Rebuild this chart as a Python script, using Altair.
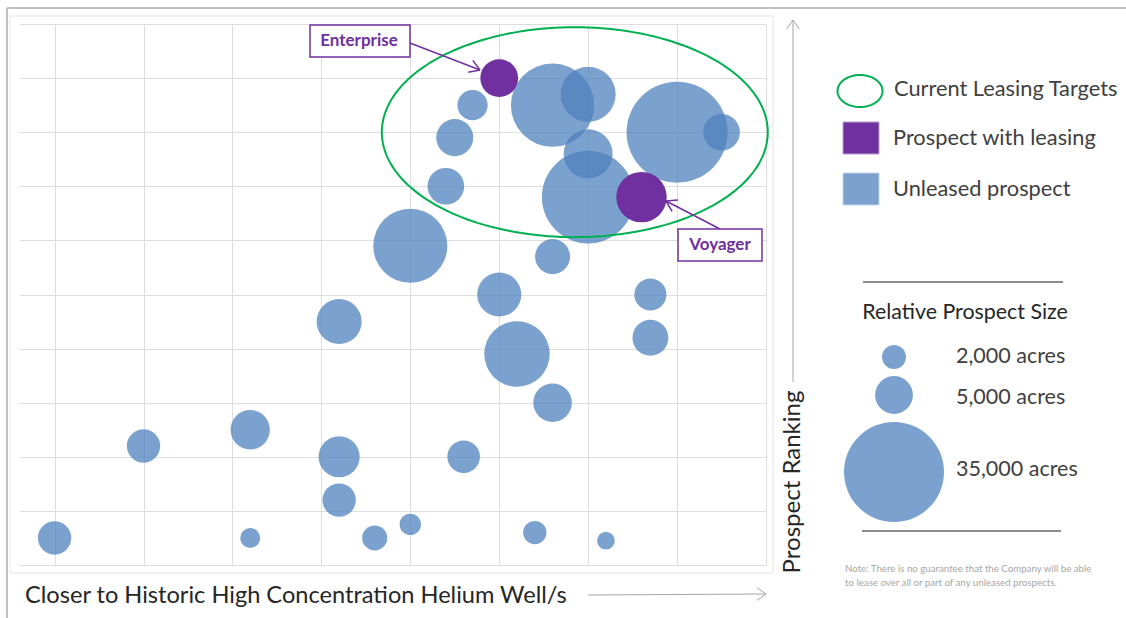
import altair as alt
import numpy as np
import pandas as pd

# ---------------- data ----------------
unleased_x = [1.0, 2.0, 3.2, 3.2, 4.2, 4.2, 4.2, 4.6, 5.0, 5.6, 6.4, 7.2, 6.2, 6.6,
              7.7, 7.7, 6.0, 6.6, 5.0, 5.4, 5.5, 5.7, 6.6, 7.0, 7.0, 7.0, 8.0, 8.5]
unleased_y = [0.5, 2.2, 0.5, 2.5, 4.5, 2.0, 1.2, 0.5, 0.75, 2.0, 0.6, 0.45, 3.9, 3.0,
              4.2, 5.0, 5.0, 5.7, 5.9, 7.0, 7.9, 8.5, 8.5, 8.7, 7.6, 6.8, 8.0, 8.0]
unleased_acres = [3900, 3900, 1400, 5400, 7100, 5900, 3900, 2200, 1600, 3700, 1900, 1100,
                  15000, 5200, 4500, 3600, 6800, 4300, 19200, 4700, 4800, 3200, 24300,
                  10600, 8400, 30000, 35700, 4700]
leased_name = ["Enterprise", "Voyager"]
leased_x = [6.0, 7.6]
leased_y = [9.0, 6.8]
leased_acres = [5000, 8900]
legend_acres = [2000, 5000, 35000]
legend_labels = ["2,000 acres", "5,000 acres", "35,000 acres"]
legend_items = ["Current Leasing Targets", "Prospect with leasing", "Unleased prospect"]
x_grid = list(range(1, 10))
y_grid = list(range(0, 11))
target_center = (6.85, 8.0)
target_radii = (2.17, 1.94)

# ---------------- layout ----------------
W, H = 747, 541
PL, PT = 19, 24
XMIN, XMAX = 0.6, 9.0
YMIN, YMAX = 0.0, 10.0
FONT = "Lato"
BLUE = "#4f81bd"
PURPLE = "#7030a0"
GREEN = "#00b050"


def X(px):
    return XMIN + (px - PL) / W * (XMAX - XMIN)


def Y(py):
    return YMAX - (py - PT) / H * (YMAX - YMIN)


xs = alt.Scale(domain=[XMIN, XMAX], nice=False, zero=False)
ys = alt.Scale(domain=[YMIN, YMAX], nice=False, zero=False)
# Vega circle: radius = sqrt(size)/2  -> 35,000 acres gives radius 50 px
ss = alt.Scale(type="linear", domain=[0, 35000], range=[0, 10000])
xaxis = alt.Axis(values=x_grid, grid=True, gridColor="#dedede", gridWidth=1,
                 labels=False, ticks=False, domain=False, title=None)
yaxis = alt.Axis(values=y_grid, grid=True, gridColor="#dedede", gridWidth=1,
                 labels=False, ticks=False, domain=False, title=None)


def ex(f):
    return alt.X(f, type="quantitative", scale=xs, axis=xaxis)


def ey(f):
    return alt.Y(f, type="quantitative", scale=ys, axis=yaxis)


def seg_layer(segs, color, width):
    df = pd.DataFrame([{"x": X(a), "y": Y(b), "x2": X(c), "y2": Y(d)} for a, b, c, d in segs])
    return alt.Chart(df).mark_rule(color=color, strokeWidth=width).encode(
        x=ex("x"), y=ey("y"), x2="x2", y2="y2")


def head(tip, frm, length=12, ang=32):
    tx, ty = tip
    fx, fy = frm
    base = np.arctan2(fy - ty, fx - tx)
    out = []
    for s in (-1, 1):
        a = base + s * np.radians(ang)
        out.append((tx, ty, tx + length * np.cos(a), ty + length * np.sin(a)))
    return out


def text_layer(px, py, text, size, color, weight="normal", align="left", angle=0):
    df = pd.DataFrame({"x": [X(px)], "y": [Y(py)], "t": [text]})
    return alt.Chart(df).mark_text(font=FONT, fontSize=size, color=color, fontWeight=weight,
                                   align=align, baseline="middle", angle=angle).encode(
        x=ex("x"), y=ey("y"), text="t:N")


def rect_layer(x0, y0, x1, y1, fill, stroke, sw, opacity=1.0):
    df = pd.DataFrame({"x": [X(x0)], "y": [Y(y0)], "x2": [X(x1)], "y2": [Y(y1)]})
    return alt.Chart(df).mark_rect(fill=fill, stroke=stroke, strokeWidth=sw, fillOpacity=opacity).encode(
        x=ex("x"), y=ey("y"), x2="x2", y2="y2")


def ellipse_layer(cx, cy, rx, ry, width):
    t = np.linspace(0, 2 * np.pi, 181)
    df = pd.DataFrame({"x": cx + rx * np.cos(t), "y": cy + ry * np.sin(t), "o": np.arange(181)})
    return alt.Chart(df).mark_line(color=GREEN, strokeWidth=width).encode(
        x=ex("x"), y=ey("y"), order="o:Q")


# ---------------- layers ----------------
frame = seg_layer([(7, 8, 1126, 8), (7, 8, 7, 618)], "#c0c0c0", 2)
inner = rect_layer(10, 16, 773, 573, "white", "#e4e4e4", 1, 0)

bub_df = pd.DataFrame({"x": unleased_x, "y": unleased_y, "acres": unleased_acres})
bubbles = alt.Chart(bub_df).mark_circle(color=BLUE, opacity=0.75).encode(
    x=ex("x"), y=ey("y"), size=alt.Size("acres:Q", scale=ss, legend=None))

leased_df = pd.DataFrame({"x": leased_x, "y": leased_y, "acres": leased_acres, "name": leased_name})
leased = alt.Chart(leased_df).mark_circle(color=PURPLE, opacity=1).encode(
    x=ex("x"), y=ey("y"), size=alt.Size("acres:Q", scale=ss, legend=None))

target = ellipse_layer(target_center[0], target_center[1], target_radii[0], target_radii[1], 2)

# annotation callouts
e_line = (410, 43, 480, 70)
v_line = (720, 229, 666, 201)
arrows = seg_layer([e_line, v_line] + head((480, 70), (410, 43)) + head((666, 201), (720, 229)),
                   PURPLE, 1.5)
e_box = rect_layer(310, 25, 410, 57, "white", PURPLE, 1.5)
v_box = rect_layer(678, 229, 762, 261, "white", PURPLE, 1.5)
e_txt = text_layer(359, 41, leased_name[0], 17, PURPLE, "bold", "center")
v_txt = text_layer(720, 245, leased_name[1], 17, PURPLE, "bold", "center")

# axis titles with arrows
x_title = text_layer(25, 596, "Closer to Historic High Concentration Helium Well/s", 23.6, "#262626")
x_arrow = seg_layer([(588, 595, 766, 594)] + head((766, 594), (588, 594), 11, 35), "#a6a6a6", 1)
y_title = text_layer(793, 482, "Prospect Ranking", 24, "#262626", "normal", "center", 270)
y_arrow = seg_layer([(793, 382, 793, 20)] + head((793, 20), (793, 382), 11, 35), "#a6a6a6", 1)

# legend
t = np.linspace(0, 2 * np.pi, 91)
leg_ell_df = pd.DataFrame({"x": [X(860 + 22.5 * np.cos(a)) for a in t],
                           "y": [Y(91 + 16 * np.sin(a)) for a in t], "o": np.arange(91)})
leg_ell = alt.Chart(leg_ell_df).mark_line(color=GREEN, strokeWidth=2).encode(
    x=ex("x"), y=ey("y"), order="o:Q")
leg_sq1 = rect_layer(843, 122, 879, 154, PURPLE, "#b9a0d0", 1)
leg_sq2 = rect_layer(843, 173, 879, 205, BLUE, "#c5d5ea", 1, 0.75)
leg_t1 = text_layer(894, 89, legend_items[0], 21.8, "#404040")
leg_t2 = text_layer(893, 138, legend_items[1], 21.8, "#404040")
leg_t3 = text_layer(893, 189, legend_items[2], 21.8, "#404040")
leg_rules = seg_layer([(863, 282, 1063, 282), (862, 531, 1061, 531)], "#8c8c8c", 2)
size_title = text_layer(965, 313, "Relative Prospect Size", 21.4, "#262626", "normal", "center")

leg_b_df = pd.DataFrame({"x": [X(894)] * 3, "y": [Y(357), Y(395), Y(472)], "acres": legend_acres})
leg_bubbles = alt.Chart(leg_b_df).mark_circle(color=BLUE, opacity=0.75).encode(
    x=ex("x"), y=ey("y"), size=alt.Size("acres:Q", scale=ss, legend=None))
lab_y = [357, 398, 470]
leg_labels = [text_layer(956, lab_y[i], legend_labels[i], 21.5, "#404040") for i in range(3)]

note1 = text_layer(845, 569, "Note: There is no guarantee that the Company will be able", 9.7, "#a6a6a6")
note2 = text_layer(845, 583, "to lease over all or part of any unleased prospects.", 9.7, "#a6a6a6")

chart = alt.layer(
    inner, frame, bubbles, leased, target, arrows, e_box, v_box, e_txt, v_txt,
    x_title, x_arrow, y_title, y_arrow,
    leg_ell, leg_sq1, leg_sq2, leg_t1, leg_t2, leg_t3, leg_rules, size_title,
    leg_bubbles, *leg_labels, note1, note2,
).properties(
    width=W, height=H, autosize="none",
    padding={"left": PL, "top": PT, "right": 1126 - PL - W, "bottom": 618 - PT - H},
    background="white",
).configure_view(strokeWidth=0)

chart.save("out.html", embed_options={"renderer": "svg", "actions": False})
